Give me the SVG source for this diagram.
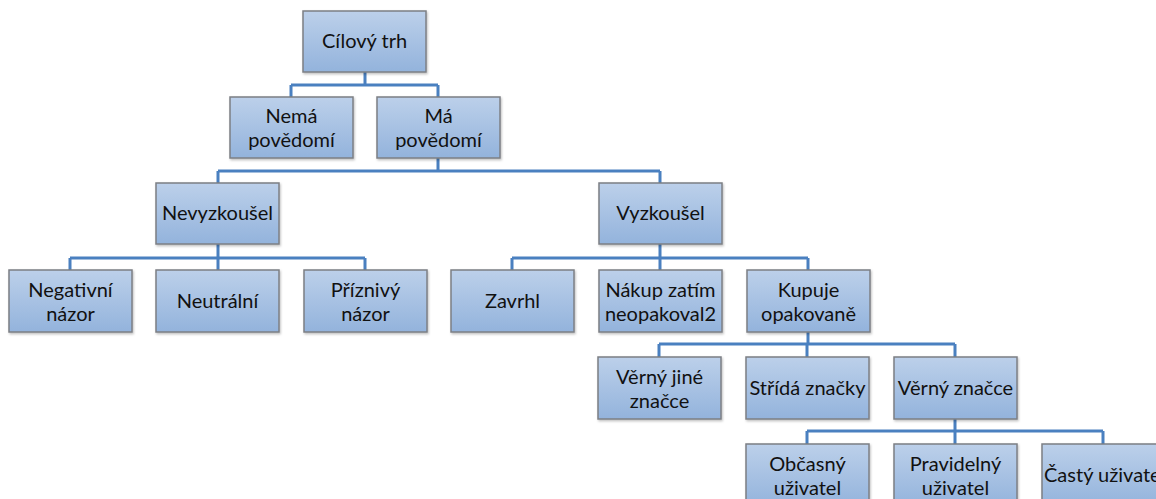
<svg xmlns="http://www.w3.org/2000/svg" width="1156" height="499" viewBox="0 0 1156 499">
<defs>
<linearGradient id="g" x1="0" y1="0" x2="0" y2="1">
<stop offset="0" stop-color="#bcd0ea"/>
<stop offset="1" stop-color="#93b3dc"/>
</linearGradient>
<filter id="sh" x="-10%" y="-10%" width="125%" height="130%">
<feDropShadow dx="1" dy="1.5" stdDeviation="1" flood-color="#000" flood-opacity="0.25"/>
</filter>
</defs>
<style>
.box{fill:url(#g);stroke:#7c7f84;stroke-width:1.5;filter:url(#sh)}
.t{font-family:Lato,"Liberation Sans",sans-serif;font-size:20px;fill:#111;text-anchor:middle}
.c{fill:none;stroke:#4a80c0;stroke-width:3}
</style>
<rect width="1156" height="499" fill="#fff"/>
<g id="connectors" class="c">
<path d="M365,72V85M291,85H438M291,85V97M438,85V97"/>
<path d="M438,158V171M218,171H660M218,171V183M660,171V183"/>
<path d="M218,244V258M70,258H365M70,258V270M218,258V270M365,258V270"/>
<path d="M660,244V258M512,258H808M512,258V270M660,258V270M808,258V270"/>
<path d="M808,332V344M659,344H955M659,344V357M807,344V357M955,344V357"/>
<path d="M955,419V431M807,431H1103M807,431V444M955,431V444M1103,431V444"/>
</g>
<g id="n1"><rect class="box" x="303" y="11" width="123" height="61"/><text class="t" x="364.5" y="48">Cílový trh</text></g>
<g id="n2"><rect class="box" x="230" y="97" width="123" height="61"/><text class="t" x="291.5" y="123">Nemá</text><text class="t" x="291.5" y="147">povědomí</text></g>
<g id="n3"><rect class="box" x="377" y="97" width="123" height="61"/><text class="t" x="438.5" y="123">Má</text><text class="t" x="438.5" y="147">povědomí</text></g>
<g id="n4"><rect class="box" x="156" y="183" width="123" height="61"/><text class="t" x="217.5" y="220">Nevyzkoušel</text></g>
<g id="n5"><rect class="box" x="599" y="183" width="123" height="61"/><text class="t" x="660.5" y="220">Vyzkoušel</text></g>
<g id="n6"><rect class="box" x="9" y="270" width="123" height="62"/><text class="t" x="70.5" y="297">Negativní</text><text class="t" x="70.5" y="321">názor</text></g>
<g id="n7"><rect class="box" x="156" y="270" width="123" height="62"/><text class="t" x="217.5" y="308">Neutrální</text></g>
<g id="n8"><rect class="box" x="304" y="270" width="123" height="62"/><text class="t" x="365.5" y="297">Příznivý</text><text class="t" x="365.5" y="321">názor</text></g>
<g id="n9"><rect class="box" x="451" y="270" width="123" height="62"/><text class="t" x="512.5" y="308">Zavrhl</text></g>
<g id="n10"><rect class="box" x="599" y="270" width="123" height="62"/><text class="t" x="660.5" y="297">Nákup zatím</text><text class="t" x="660.5" y="321">neopakoval2</text></g>
<g id="n11"><rect class="box" x="747" y="270" width="123" height="62"/><text class="t" x="808.5" y="297">Kupuje</text><text class="t" x="808.5" y="321">opakovaně</text></g>
<g id="n12"><rect class="box" x="598" y="357" width="123" height="62"/><text class="t" x="659.5" y="384">Věrný jiné</text><text class="t" x="659.5" y="408">značce</text></g>
<g id="n13"><rect class="box" x="746" y="357" width="123" height="62"/><text class="t" x="807.5" y="395">Střídá značky</text></g>
<g id="n14"><rect class="box" x="894" y="357" width="123" height="62"/><text class="t" x="955.5" y="395">Věrný značce</text></g>
<g id="n15"><rect class="box" x="746" y="444" width="123" height="62"/><text class="t" x="807.5" y="471">Občasný</text><text class="t" x="807.5" y="495">uživatel</text></g>
<g id="n16"><rect class="box" x="894" y="444" width="123" height="62"/><text class="t" x="955.5" y="471">Pravidelný</text><text class="t" x="955.5" y="495">uživatel</text></g>
<g id="n17"><rect class="box" x="1042" y="444" width="123" height="62"/><text class="t" x="1044" y="482" style="text-anchor:start">Častý uživatel</text></g>
</svg>
